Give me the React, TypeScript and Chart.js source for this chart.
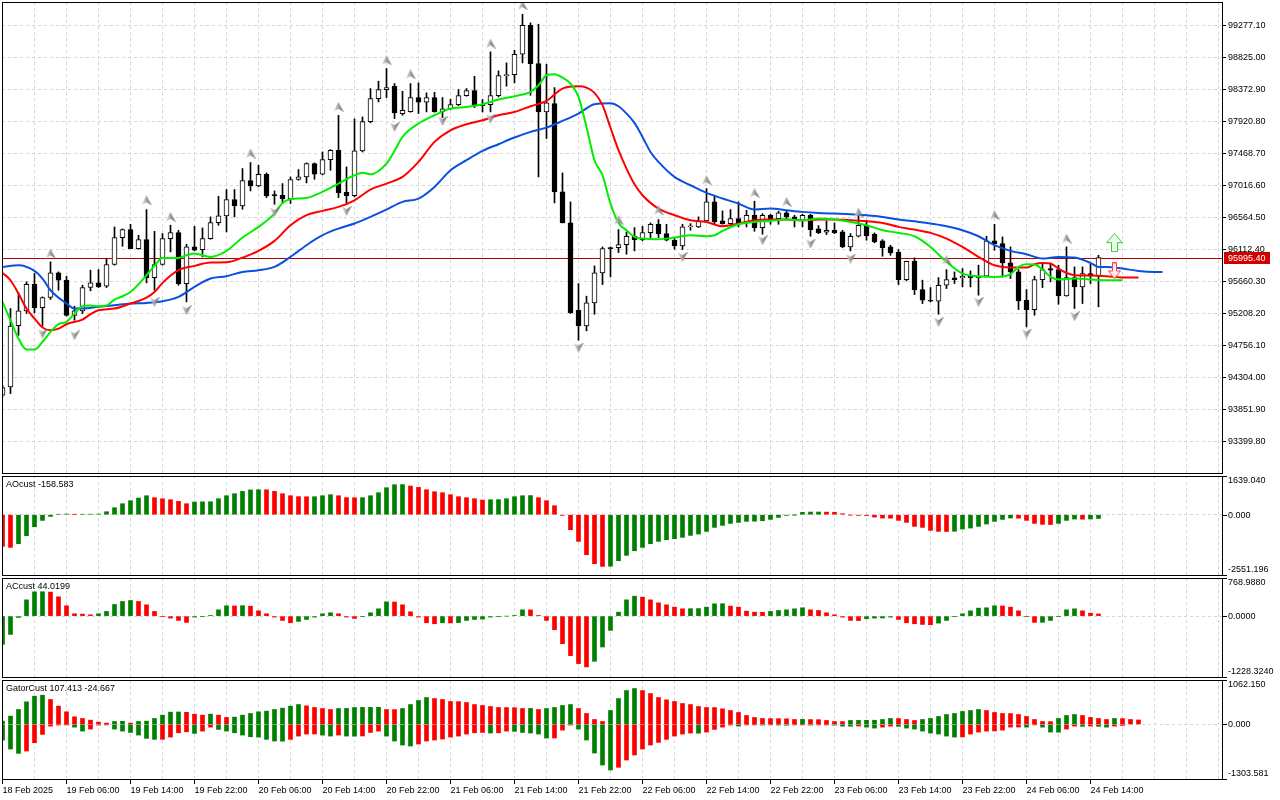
import React, { useEffect, useRef } from "react";
import { Chart, registerables } from "chart.js";

Chart.register(...registerables);

const FONT = "'Liberation Sans', Arial, Helvetica, sans-serif";
const GRID = "#d6d6d6";
const UP_GREEN = "#008000";
const DOWN_RED = "#ff0000";
const JAW_BLUE = "#0a50e0";
const TEETH_RED = "#ff0000";
const LIPS_GREEN = "#00ee00";

// ---------- price data (H1 bars, 18 Feb 22:00 .. 24 Feb 15:00) ----------
const opens = [
  94051, 94168, 95035, 95242, 95619, 95289, 95431, 95779, 95676, 95177,
  95242, 95572, 95638, 95591, 95897, 96277, 96391, 96122, 96249, 95713,
  95897, 96263, 96348, 95628, 96146, 96108, 96263, 96489, 96584, 96815,
  96725, 97083, 97008, 97172, 96885, 96876, 96824, 97098, 97135, 97323,
  97172, 97380, 97512, 96918, 96871, 97502, 97917, 98242, 98369, 98416,
  98030, 98058, 98256, 98190, 98256, 98058, 98096, 98157, 98284, 98355,
  98157, 98157, 98284, 98567, 98581, 98868, 99278, 98736, 98053, 98171,
  96923, 96485, 95251, 95030, 95355, 95779, 96136, 96136, 96179, 96297,
  96249, 96348, 96466, 96334, 96240, 96160, 96428, 96428, 96513, 96782,
  96513, 96475, 96546, 96485, 96593, 96419, 96593, 96546, 96626, 96570,
  96523, 96593, 96400, 96353, 96381, 96358, 96146, 96297, 96452, 96325,
  96231, 96146, 96071, 95685, 95944, 95543, 95393, 95379, 95605, 95708,
  95708, 95732, 95713, 95732, 96231, 96193, 95920, 95793, 95393, 95261,
  95685, 95840, 95826, 95454, 95713, 95581, 95770, 95732,
];
const highs = [
  94192, 95275, 95497, 95652, 95770, 95440, 95935, 95793, 95732, 95308,
  95605, 95817, 95826, 95982, 96428, 96400, 96466, 96310, 96673, 96367,
  96334, 96452, 96381, 96183, 96438, 96414, 96570, 96862, 96956, 96956,
  97253, 97338, 97300, 97191, 96937, 97041, 97135, 97239, 97333, 97333,
  97488, 97521, 98006, 97276, 97954, 97982, 98383, 98487, 98666, 98454,
  98345, 98454, 98463, 98322, 98331, 98256, 98232, 98369, 98383, 98557,
  98228, 98901, 98633, 98746, 98925, 99433, 99311, 99292, 98727, 98397,
  97191, 96782, 95628, 95450, 95878, 96146, 96146, 96391, 96358, 96419,
  96438, 96485, 96532, 96466, 96263, 96466, 96475, 96570, 96970, 96876,
  96655, 96673, 96782, 96664, 96791, 96617, 96607, 96650, 96655, 96593,
  96607, 96607, 96447, 96513, 96485, 96381, 96334, 96579, 96523, 96344,
  96249, 96169, 96108, 95944, 95991, 95676, 95572, 95713, 95826, 95793,
  95840, 95807, 95888, 96297, 96466, 96287, 96146, 95826, 95543, 95732,
  95911, 95911, 95888, 96146, 95864, 95864, 95902, 96028,
];
const lows = [
  94027, 94074, 94898, 95205, 95214, 95026, 95403, 95534, 95168, 95110,
  95205, 95525, 95572, 95572, 95888, 96155, 96122, 96113, 95638, 95534,
  95888, 96075, 95605, 95370, 96090, 96005, 96254, 96452, 96358, 96570,
  96678, 96937, 96994, 96843, 96749, 96758, 96758, 97088, 97050, 97102,
  97163, 97229, 96843, 96768, 96852, 97488, 97898, 98195, 98256, 97959,
  98006, 98049, 98030, 98053, 98049, 97973, 98086, 98143, 98275, 98115,
  98053, 98053, 98265, 98416, 98463, 98746, 98289, 97135, 97677, 96768,
  96485, 95205, 94828, 94960, 95195, 95614, 95722, 96066, 96043, 96090,
  96231, 96278, 96278, 96231, 96113, 96108, 96381, 96419, 96504, 96475,
  96466, 96466, 96428, 96428, 96367, 96325, 96466, 96466, 96532, 96428,
  96428, 96297, 96334, 96320, 96334, 96136, 96090, 96287, 96240, 96203,
  96014, 96028, 95614, 95666, 95473, 95346, 95370, 95195, 95558, 95628,
  95581, 95581, 95464, 95732, 96099, 95722, 95699, 95261, 95016, 95181,
  95572, 95652, 95336, 95450, 95275, 95346, 95628, 95299,
];
const closes = [
  94159, 95026, 95242, 95619, 95289, 95431, 95779, 95676, 95177, 95242,
  95572, 95638, 95581, 95897, 96277, 96391, 96122, 96249, 95713, 95897,
  96263, 96348, 95628, 96146, 96099, 96263, 96489, 96584, 96815, 96725,
  97083, 97008, 97172, 96866, 96871, 96824, 97098, 97135, 97323, 97172,
  97380, 97512, 96909, 96871, 97502, 97917, 98242, 98369, 98397, 98039,
  98077, 98256, 98190, 98256, 98058, 98096, 98157, 98284, 98355, 98133,
  98143, 98284, 98567, 98581, 98868, 99278, 98736, 98053, 98181, 96923,
  96485, 95218, 95030, 95355, 95779, 96122, 96122, 96179, 96297, 96249,
  96348, 96466, 96334, 96240, 96160, 96428, 96438, 96513, 96782, 96499,
  96475, 96546, 96485, 96593, 96419, 96593, 96546, 96626, 96570, 96523,
  96593, 96391, 96344, 96381, 96344, 96146, 96297, 96452, 96301, 96217,
  96136, 96061, 95685, 95944, 95543, 95393, 95379, 95605, 95685, 95685,
  95732, 95713, 95732, 96231, 96193, 95920, 95793, 95383, 95261, 95685,
  95826, 95817, 95454, 95713, 95581, 95770, 95732, 95995.4,
];

// ---------- Alligator lines [bar index, price] (shifted forward) ----------
const jawPts: [number, number][] = [
  [0, 95864], [2, 95887], [4, 95807], [5, 95699], [6, 95534], [8, 95346], [9, 95275], [10, 95275],
  [12, 95299], [14, 95322], [16, 95346], [18, 95355], [20, 95379], [22, 95440], [24, 95581], [26, 95699],
  [28, 95732], [30, 95793], [32, 95817], [34, 95864], [36, 96005], [38, 96170], [40, 96311], [42, 96405],
  [44, 96476], [46, 96570], [48, 96674], [50, 96782], [52, 96829], [54, 96994], [56, 97229], [58, 97371],
  [60, 97502], [62, 97597], [64, 97691], [66, 97771], [68, 97832], [70, 97926], [72, 98030], [74, 98162],
  [76, 98176], [77, 98133], [78, 98030], [79, 97898], [80, 97700], [81, 97488], [82, 97347], [84, 97135],
  [86, 97017], [88, 96909], [90, 96829], [92, 96758], [94, 96674], [96, 96688], [98, 96664], [100, 96641],
  [102, 96626], [104, 96617], [106, 96608], [108, 96593], [110, 96570], [112, 96532], [114, 96509], [116, 96476],
  [118, 96438], [120, 96382], [122, 96297], [124, 96170], [126, 96090], [128, 96043], [130, 95981], [132, 96005],
  [134, 95995], [136, 95920], [137, 95864], [138, 95864], [140, 95840], [142, 95807], [144, 95793], [145, 95793],
];
const teethPts: [number, number][] = [
  [0, 95779], [1, 95675], [2, 95487], [3, 95275], [4, 95134], [5, 95007], [6, 94969], [7, 94992],
  [8, 95054], [10, 95120], [11, 95195], [12, 95252], [14, 95275], [16, 95346], [18, 95430], [19, 95510],
  [20, 95638], [22, 95817], [24, 95878], [26, 95925], [28, 95929], [30, 95995], [32, 96090], [34, 96231],
  [36, 96452], [38, 96594], [40, 96655], [42, 96711], [44, 96805], [46, 96956], [48, 97041], [50, 97135],
  [52, 97347], [54, 97630], [56, 97794], [58, 97879], [60, 97936], [62, 98006], [64, 98053], [66, 98133],
  [68, 98209], [70, 98383], [72, 98416], [73, 98397], [74, 98322], [75, 98148], [76, 97830], [77, 97512],
  [78, 97253], [79, 97031], [80, 96876], [81, 96768], [82, 96688], [84, 96594], [86, 96523], [88, 96499],
  [90, 96438], [92, 96476], [94, 96523], [96, 96532], [98, 96532], [100, 96523], [102, 96532], [104, 96532],
  [106, 96523], [108, 96509], [110, 96485], [112, 96429], [114, 96391], [116, 96344], [118, 96264], [120, 96146],
  [122, 96005], [124, 95887], [126, 95854], [128, 95854], [129, 95901], [130, 95920], [131, 95911], [132, 95840],
  [133, 95779], [134, 95746], [136, 95741], [138, 95732], [140, 95713], [142, 95713],
];
const lipsPts: [number, number][] = [
  [0, 95369], [1, 95110], [2, 94851], [3, 94696], [4, 94696], [5, 94804], [6, 94945], [7, 95054],
  [8, 95087], [9, 95204], [10, 95308], [11, 95317], [12, 95308], [13, 95317], [14, 95402], [15, 95449],
  [16, 95510], [17, 95619], [18, 95746], [19, 95878], [20, 95991], [22, 95991], [23, 96028], [24, 96052],
  [26, 96005], [28, 96090], [30, 96278], [32, 96429], [34, 96617], [35, 96768], [36, 96820], [38, 96838],
  [40, 96923], [42, 97041], [44, 97159], [45, 97192], [46, 97173], [48, 97323], [49, 97502], [50, 97700],
  [52, 97889], [54, 98006], [56, 98101], [58, 98124], [60, 98162], [62, 98228], [64, 98275], [66, 98336],
  [67, 98430], [68, 98571], [69, 98586], [70, 98538], [71, 98454], [72, 98265], [73, 97841], [74, 97371],
  [75, 97159], [76, 96758], [77, 96485], [78, 96382], [79, 96287], [80, 96264], [82, 96254], [84, 96278],
  [86, 96311], [88, 96297], [89, 96311], [90, 96372], [92, 96466], [94, 96499], [96, 96513], [98, 96532],
  [100, 96523], [102, 96546], [104, 96532], [106, 96499], [108, 96452], [110, 96382], [112, 96344], [114, 96297],
  [116, 96146], [118, 95934], [120, 95769], [122, 95732], [124, 95722], [126, 95760], [127, 95864], [128, 95901],
  [129, 95897], [130, 95826], [131, 95722], [132, 95685], [134, 95699], [136, 95685], [138, 95675], [140, 95675],
];

// ---------- Fractals and signals [bar index, price] ----------
const fractalUp: [number, number][] = [
  [6, 96052], [18, 96805], [21, 96570], [31, 97465], [42, 98124], [48, 98783], [51, 98586], [61, 99019],
  [65, 99560], [77, 96523], [82, 96664], [88, 97088], [94, 96909], [98, 96782], [107, 96631], [118, 95958],
  [124, 96594], [133, 96264],
];
const fractalDown: [number, number][] = [
  [5, 94922], [9, 94898], [19, 95369], [23, 95252], [34, 96641], [43, 96655], [49, 97841], [55, 97926],
  [61, 97959], [72, 94724], [85, 96005], [95, 96240], [101, 96193], [106, 95981], [117, 95087], [122, 95369],
  [128, 94922], [134, 95167],
];
const buySignal: [number, number][] = [[139, 96207]];
const sellSignal: [number, number][] = [[139, 95807]];

// ---------- Indicator panels ----------
const aoValues = [
  -1340, -1383, -1228, -889, -508, -240, -70, 20, 28, 14,
  20, 24, 26, 127, 296, 466, 593, 705, 804, 720,
  677, 635, 564, 466, 536, 545, 550, 677, 804, 889,
  988, 1050, 1058, 1055, 988, 889, 804, 765, 760, 762,
  804, 847, 804, 725, 720, 722, 804, 931, 1143, 1270,
  1275, 1213, 1157, 1058, 973, 931, 847, 762, 720, 677,
  621, 635, 640, 677, 762, 804, 810, 720, 593, 381,
  -28, -635, -1129, -1693, -2074, -2187, -2180, -1947, -1721, -1524,
  -1383, -1228, -1129, -1058, -1016, -959, -875, -818, -706, -536,
  -452, -367, -325, -282, -275, -254, -198, -113, -28, -5,
  99, 113, 115, 110, 105, 42, -14, -28, -35, -99,
  -141, -148, -240, -325, -494, -536, -663, -706, -710, -700,
  -607, -564, -494, -395, -282, -198, -141, -148, -240, -367,
  -409, -415, -367, -240, -183, -190, -180, -158.583,
];
const acValues = [
  -570, -369, -27, 328, 489, 492, 485, 389, 208, 47,
  40, 27, 47, 94, 235, 295, 315, 295, 228, 94,
  -7, -40, -87, -127, -20, -7, 13, 127, 208, 205,
  210, 200, 107, 47, -20, -87, -134, -107, -67, -20,
  47, 67, 47, -20, -47, -7, 67, 147, 288, 285,
  228, 87, -20, -134, -154, -134, -138, -130, -87, -67,
  -60, -20, -7, 0, 13, 127, 125, 13, -87, -275,
  -556, -797, -958, -1025, -911, -623, -288, 80, 328, 402,
  382, 328, 268, 228, 181, 147, 150, 152, 181, 248,
  250, 201, 181, 100, 80, 78, 94, 114, 127, 147,
  168, 127, 114, 67, 27, -20, -87, -90, -54, -40,
  -38, -20, -67, -134, -154, -168, -174, -141, -87, -7,
  47, 107, 161, 168, 208, 205, 181, 107, -7, -127,
  -125, -87, -7, 127, 147, 107, 60, 44.0199,
];
const gatorUpper = [
  79, 199, 357, 540, 675, 699, 596, 437, 302, 183,
  143, 103, 56, 32, 71, 75, 32, 71, 79, 143,
  222, 294, 298, 290, 246, 222, 246, 222, 167, 175,
  222, 262, 302, 318, 357, 389, 437, 476, 445, 405,
  381, 357, 381, 383, 405, 407, 408, 410, 357, 355,
  381, 476, 572, 643, 619, 596, 548, 546, 524, 476,
  453, 429, 405, 403, 400, 381, 383, 357, 381, 405,
  453, 476, 381, 262, 119, 71, 333, 619, 810, 858,
  810, 738, 643, 588, 548, 500, 476, 429, 405, 403,
  373, 333, 286, 214, 167, 143, 140, 138, 135, 119,
  121, 117, 115, 95, 71, 68, 95, 97, 99, 101,
  119, 143, 141, 119, 95, 119, 143, 191, 238, 262,
  310, 333, 357, 333, 286, 262, 260, 238, 191, 119,
  71, 68, 143, 214, 238, 214, 167, 143, 119, 143,
  140, 119, 107.413,
];
const gatorLower = [
  -373, -588, -691, -635, -437, -238, -40, -16, -5, -64,
  -159, -111, -16, -8, -111, -159, -191, -254, -333, -357,
  -355, -302, -199, -175, -214, -159, -64, -119, -159, -199,
  -254, -294, -302, -357, -397, -400, -357, -278, -230, -228,
  -254, -278, -254, -278, -280, -276, -191, -159, -278, -397,
  -492, -516, -468, -397, -373, -349, -302, -278, -230, -199,
  -191, -206, -200, -159, -165, -191, -206, -230, -326, -324,
  -135, -16, -111, -373, -683, -969, -1088, -1024, -850, -730,
  -588, -492, -429, -357, -278, -230, -206, -210, -183, -119,
  -64, -16, -40, -8, -7, -16, -8, -16, -18, -8,
  -6, -16, -8, -6, -16, -40, -42, -38, -64, -87,
  -64, -40, -45, -87, -111, -159, -206, -230, -278, -302,
  -298, -230, -183, -159, -155, -135, -64, -62, -64, -8,
  -64, -183, -185, -111, -40, -45, -40, -45, -64, -40,
  -24.667,
];

// ---------- Axis ticks ----------
const priceTicks = [
  99277.1, 98825.0, 98372.9, 97920.8, 97468.7, 97016.6, 96564.5,
  96112.4, 95660.3, 95208.2, 94756.1, 94304.0, 93851.9, 93399.8,
];
const aoAxis = [1639.04, 0, -2551.196];
const acAxis = [768.988, 0, -1228.324];
const gatorAxis = [1062.15, 0, -1303.581];
const timeTickIdx = [0, 8, 16, 24, 32, 40, 48, 56, 64, 72, 80, 88, 96, 104, 112, 120, 128, 136];
const timeLabels = [
  "18 Feb 2025", "19 Feb 06:00", "19 Feb 14:00", "19 Feb 22:00", "20 Feb 06:00", "20 Feb 14:00",
  "20 Feb 22:00", "21 Feb 06:00", "21 Feb 14:00", "21 Feb 22:00", "22 Feb 06:00", "22 Feb 14:00",
  "22 Feb 22:00", "23 Feb 06:00", "23 Feb 14:00", "23 Feb 22:00", "24 Feb 06:00", "24 Feb 14:00",
];

// ---------- layout constants ----------
const X_MIN = -0.0625;
const X_MAX = 152.4375;
const PRICE_MIN = 92952;
const PRICE_MAX = 99606;
const AXIS_W = 58;

const pts = (a: [number, number][]) => a.map(([x, y]) => ({ x, y }));

function risingColors(vals: number[], firstUp: boolean, useAbs = false) {
  return vals.map((v, i) => {
    if (i === 0) return firstUp ? UP_GREEN : DOWN_RED;
    const a = useAbs ? Math.abs(v) : v;
    const b = useAbs ? Math.abs(vals[i - 1]) : vals[i - 1];
    return a > b ? UP_GREEN : DOWN_RED;
  });
}

function zeroPad(s: any) {
  s.paddingTop = 0;
  s.paddingBottom = 0;
  s.paddingLeft = 0;
  s.paddingRight = 0;
}

function xAxis(bottom: boolean): any {
  return {
    type: "linear",
    min: X_MIN,
    max: X_MAX,
    offset: false,
    afterBuildTicks: (s: any) => {
      const t: any[] = [];
      for (let v = 0; v <= 152; v += 4) t.push({ value: v });
      s.ticks = t;
    },
    afterFit: (s: any) => {
      s.height = bottom ? 21 : 0;
      zeroPad(s);
    },
    grid: {
      offset: false,
      color: GRID,
      lineWidth: 1,
      drawTicks: bottom,
      tickLength: 5,
      tickWidth: 1,
      tickColor: (c: any) =>
        c.tick && timeTickIdx.includes(c.tick.value) ? "#000" : "rgba(0,0,0,0)",
      tickBorderDash: [],
    },
    border: { display: false, dash: [3, 3] },
    ticks: {
      display: bottom,
      autoSkip: false,
      maxRotation: 0,
      minRotation: 0,
      align: "start",
      padding: 1,
      color: "#000",
      font: { family: FONT, size: 9 },
      callback: (v: number) => {
        const k = timeTickIdx.indexOf(v);
        return k >= 0 ? timeLabels[k] : "";
      },
    },
  };
}

function subY(axisVals: number[]): any {
  return {
    type: "linear",
    position: "right",
    min: Math.min(...axisVals),
    max: Math.max(...axisVals),
    afterBuildTicks: (s: any) => {
      s.ticks = axisVals.map((v) => ({ value: v }));
    },
    afterFit: (s: any) => {
      s.width = AXIS_W;
      zeroPad(s);
    },
    grid: { color: GRID, drawTicks: false, lineWidth: 1 },
    border: { display: false, dash: [3, 3] },
    ticks: { display: false },
  };
}

function panelPlugin(title: string, axisVals: number[], decimals: number) {
  return {
    id: "panelDecor",
    afterDraw(chart: any) {
      const { ctx, chartArea: a } = chart;
      const ys = chart.scales.y;
      ctx.save();
      ctx.strokeStyle = "#000";
      ctx.lineWidth = 1;
      ctx.strokeRect(a.left + 0.5, a.top + 0.5, a.right - a.left, a.bottom - a.top);
      ctx.font = `9px ${FONT}`;
      ctx.fillStyle = "#000";
      ctx.textBaseline = "middle";
      ctx.textAlign = "left";
      ctx.fillText(title, a.left + 4, a.top + 9);
      axisVals.forEach((v) => {
        const py = Math.round(ys.getPixelForValue(v)) + 0.5;
        ctx.beginPath();
        ctx.moveTo(a.right + 1, py);
        ctx.lineTo(a.right + 5, py);
        ctx.stroke();
        const ly = Math.min(Math.max(py, a.top + 5), a.bottom - 5);
        ctx.fillText(v.toFixed(decimals), a.right + 6, ly);
      });
      ctx.restore();
    },
  };
}

const lastPrice = closes[closes.length - 1];

const mainPlugin = {
  id: "mainDecor",
  beforeDatasetsDraw(chart: any) {
    const { ctx, chartArea: a } = chart;
    const py = Math.round(chart.scales.y.getPixelForValue(lastPrice)) + 0.5;
    ctx.save();
    ctx.strokeStyle = "#b00000";
    ctx.lineWidth = 1;
    ctx.beginPath();
    ctx.moveTo(a.left, py);
    ctx.lineTo(a.right, py);
    ctx.stroke();
    ctx.restore();
  },
  afterDraw(chart: any) {
    const { ctx, chartArea: a } = chart;
    ctx.save();
    ctx.strokeStyle = "#000";
    ctx.lineWidth = 1;
    ctx.strokeRect(a.left + 0.5, a.top + 0.5, a.right - a.left, a.bottom - a.top);
    const py = Math.round(chart.scales.y.getPixelForValue(lastPrice));
    ctx.fillStyle = "#d00000";
    ctx.fillRect(a.right + 2, py - 6, 46, 12);
    ctx.fillStyle = "#fff";
    ctx.font = `9px ${FONT}`;
    ctx.textBaseline = "middle";
    ctx.textAlign = "left";
    ctx.fillText(lastPrice.toFixed(2), a.right + 6, py + 0.5);
    ctx.restore();
  },
};

function fractalImg(up: boolean) {
  const w = 10;
  const h = 10;
  const c = document.createElement("canvas");
  c.width = w;
  c.height = h;
  const g = c.getContext("2d")!;
  if (!up) {
    g.translate(0, h);
    g.scale(1, -1);
  }
  const grad = g.createLinearGradient(0, 0, w, 0);
  grad.addColorStop(0, "#e6e6e6");
  grad.addColorStop(0.45, "#a8a8a8");
  grad.addColorStop(1, "#5a5a5a");
  g.fillStyle = grad;
  g.beginPath();
  g.moveTo(w / 2, 0);
  g.lineTo(w, h);
  g.lineTo(w / 2, h * 0.68);
  g.lineTo(0, h);
  g.closePath();
  g.fill();
  return c;
}

function signalImg(up: boolean, w: number, h: number, stroke: string, fill: string) {
  const c = document.createElement("canvas");
  c.width = w;
  c.height = h;
  const g = c.getContext("2d")!;
  if (!up) {
    g.translate(0, h);
    g.scale(1, -1);
  }
  const head = Math.round(h * 0.45) + 0.5;
  const sx0 = Math.round(w * 0.3) + 0.5;
  const sx1 = w - sx0;
  g.beginPath();
  g.moveTo(w / 2, 0.5);
  g.lineTo(w - 0.5, head);
  g.lineTo(sx1, head);
  g.lineTo(sx1, h - 0.5);
  g.lineTo(sx0, h - 0.5);
  g.lineTo(sx0, head);
  g.lineTo(0.5, head);
  g.closePath();
  g.fillStyle = fill;
  g.fill();
  g.strokeStyle = stroke;
  g.lineWidth = 1;
  g.stroke();
  return c;
}

function baseOptions(padding: any): any {
  return {
    responsive: false,
    animation: false,
    events: [],
    layout: { padding, autoPadding: false },
    plugins: { legend: { display: false }, tooltip: { enabled: false } },
  };
}

export default function App() {
  const mainRef = useRef<HTMLCanvasElement>(null);
  const aoRef = useRef<HTMLCanvasElement>(null);
  const acRef = useRef<HTMLCanvasElement>(null);
  const gatorRef = useRef<HTMLCanvasElement>(null);

  useEffect(() => {
    document.body.style.margin = "0";
    Chart.defaults.font.family = FONT;
    Chart.defaults.font.size = 9;
    Chart.defaults.color = "#000";

    const idx = closes.map((_, i) => i);
    const charts: Chart[] = [];

    // ---- main price chart ----
    charts.push(
      new Chart(mainRef.current!, {
        type: "bar",
        data: {
          datasets: [
            {
              type: "bar",
              data: idx.map((i) => ({ x: i, y: [lows[i], highs[i]] })) as any,
              backgroundColor: "#000",
              borderWidth: 0,
              barThickness: 1,
              grouped: false,
              order: 6,
            } as any,
            {
              type: "bar",
              data: idx.map((i) => ({ x: i, y: [opens[i], closes[i]] })) as any,
              backgroundColor: idx.map((i) => (closes[i] >= opens[i] ? "#ffffff" : "#000000")),
              borderColor: "#000",
              borderWidth: 1,
              borderSkipped: false,
              barThickness: 5,
              minBarLength: 1,
              grouped: false,
              order: 5,
            } as any,
            {
              type: "line",
              data: pts(jawPts),
              borderColor: JAW_BLUE,
              borderWidth: 2,
              pointRadius: 0,
              cubicInterpolationMode: "monotone",
              fill: false,
              order: 4,
            } as any,
            {
              type: "line",
              data: pts(teethPts),
              borderColor: TEETH_RED,
              borderWidth: 2,
              pointRadius: 0,
              cubicInterpolationMode: "monotone",
              fill: false,
              order: 3,
            } as any,
            {
              type: "line",
              data: pts(lipsPts),
              borderColor: LIPS_GREEN,
              borderWidth: 2,
              pointRadius: 0,
              cubicInterpolationMode: "monotone",
              fill: false,
              order: 2,
            } as any,
            {
              type: "line",
              data: pts(fractalUp),
              showLine: false,
              pointStyle: fractalImg(true),
              pointRadius: 5,
              order: 1,
            } as any,
            {
              type: "line",
              data: pts(fractalDown),
              showLine: false,
              pointStyle: fractalImg(false),
              pointRadius: 5,
              order: 1,
            } as any,
            {
              type: "line",
              data: pts(buySignal),
              showLine: false,
              pointStyle: signalImg(true, 17, 19, "#3cc83c", "rgba(235,255,235,0.95)"),
              pointRadius: 8,
              order: 0,
            } as any,
            {
              type: "line",
              data: pts(sellSignal),
              showLine: false,
              pointStyle: signalImg(false, 13, 17, "#ff3c3c", "rgba(255,235,235,0.95)"),
              pointRadius: 8,
              order: 0,
            } as any,
          ],
        },
        options: {
          ...baseOptions({ left: 2, top: 2, right: 0, bottom: 2 }),
          scales: {
            x: xAxis(false),
            y: {
              type: "linear",
              position: "right",
              min: PRICE_MIN,
              max: PRICE_MAX,
              afterBuildTicks: (s: any) => {
                s.ticks = priceTicks.map((v) => ({ value: v }));
              },
              afterFit: (s: any) => {
                s.width = AXIS_W;
                zeroPad(s);
              },
              grid: {
                color: GRID,
                lineWidth: 1,
                drawTicks: true,
                tickLength: 4,
                tickColor: "#000",
                tickBorderDash: [],
              },
              border: { display: false, dash: [3, 3] },
              ticks: {
                color: "#000",
                padding: 2,
                font: { family: FONT, size: 9 },
                callback: (v: any) => Number(v).toFixed(2),
              },
            },
          },
        } as any,
        plugins: [mainPlugin],
      })
    );

    const histo = (vals: number[], colors: string[]) =>
      ({
        type: "bar",
        data: vals.map((v, i) => ({ x: i, y: v })),
        backgroundColor: colors,
        borderWidth: 0,
        barThickness: 4,
        grouped: false,
      } as any);

    // ---- AO ----
    charts.push(
      new Chart(aoRef.current!, {
        type: "bar",
        data: { datasets: [histo(aoValues, risingColors(aoValues, false))] },
        options: {
          ...baseOptions({ left: 2, top: 1, right: 0, bottom: 1 }),
          scales: { x: xAxis(false), y: subY(aoAxis) },
        } as any,
        plugins: [panelPlugin(`AOcust ${aoValues[aoValues.length - 1].toFixed(3)}`, aoAxis, 3)],
      })
    );

    // ---- AC ----
    charts.push(
      new Chart(acRef.current!, {
        type: "bar",
        data: { datasets: [histo(acValues, risingColors(acValues, true))] },
        options: {
          ...baseOptions({ left: 2, top: 1, right: 0, bottom: 1 }),
          scales: { x: xAxis(false), y: subY(acAxis) },
        } as any,
        plugins: [panelPlugin(`ACcust ${acValues[acValues.length - 1].toFixed(4)}`, acAxis, 4)],
      })
    );

    // ---- Gator ----
    charts.push(
      new Chart(gatorRef.current!, {
        type: "bar",
        data: {
          datasets: [
            histo(gatorUpper, risingColors(gatorUpper, true)),
            histo(gatorLower, risingColors(gatorLower, true, true)),
          ],
        },
        options: {
          ...baseOptions({ left: 2, top: 1, right: 0, bottom: 0 }),
          scales: { x: xAxis(true), y: subY(gatorAxis) },
        } as any,
        plugins: [
          panelPlugin(
            `GatorCust ${gatorUpper[gatorUpper.length - 1].toFixed(3)} ${gatorLower[
              gatorLower.length - 1
            ].toFixed(3)}`,
            gatorAxis,
            3
          ),
        ],
      })
    );

    return () => charts.forEach((c) => c.destroy());
  }, []);

  return (
    <div
      style={{
        position: "absolute",
        left: 0,
        top: 0,
        width: 1280,
        height: 800,
        background: "#ffffff",
        overflow: "hidden",
      }}
    >
      <canvas ref={mainRef} width={1280} height={475} style={{ position: "absolute", left: 0, top: 0 }} />
      <canvas ref={aoRef} width={1280} height={101} style={{ position: "absolute", left: 0, top: 475 }} />
      <canvas ref={acRef} width={1280} height={101} style={{ position: "absolute", left: 0, top: 577 }} />
      <canvas ref={gatorRef} width={1280} height={121} style={{ position: "absolute", left: 0, top: 679 }} />
    </div>
  );
}
